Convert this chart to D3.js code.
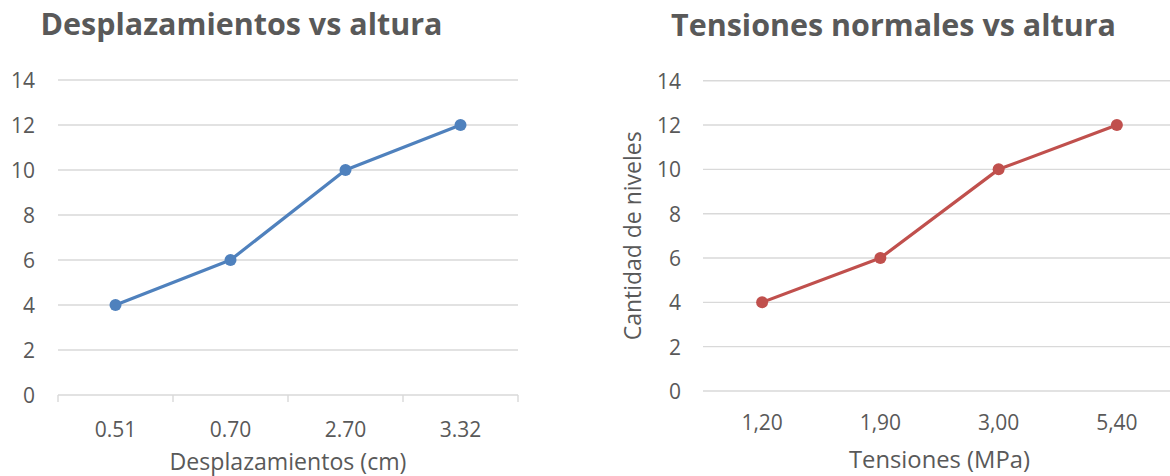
<!DOCTYPE html>
<html>
<head>
<meta charset="utf-8">
<script src="https://cdn.jsdelivr.net/npm/d3@7"></script>
<style>
  html, body { margin: 0; padding: 0; background: #ffffff; }
  svg { display: block; }
  text { font-family: "Open Sans", "Noto Sans", sans-serif; fill: #595959; }
</style>
</head>
<body>
<svg id="chart" width="1170" height="476"></svg>
<script>
// ---- data ----
const levels = [4, 6, 10, 12];
const displacementLabels = ["0.51", "0.70", "2.70", "3.32"];
const tensionLabels = ["1,20", "1,90", "3,00", "5,40"];
const yTicks = [0, 2, 4, 6, 8, 10, 12, 14];

const svg = d3.select("#chart");

function fitText(sel, target) {
  const w = sel.node().getComputedTextLength();
  const fs = parseFloat(sel.attr("font-size"));
  sel.attr("font-size", fs * target / w);
}

function drawChart(cfg) {
  const g = svg.append("g");
  const x = d3.scaleBand().domain(cfg.categories).range([cfg.x0, cfg.x1]).paddingInner(0).paddingOuter(0);
  const y = d3.scaleLinear().domain([0, 14]).range([cfg.y0, cfg.y1]);

  // gridlines
  g.append("g").selectAll("line").data(yTicks.filter(d => d > 0 || !cfg.axisTicks)).join("line")
    .attr("x1", cfg.x0).attr("x2", cfg.x1)
    .attr("y1", d => y(d)).attr("y2", d => y(d))
    .attr("stroke", "#d9d9d9").attr("stroke-width", 1.4);

  // x axis line with category boundary ticks
  if (cfg.axisTicks) {
    g.append("line").attr("x1", cfg.x0).attr("x2", cfg.x1)
      .attr("y1", y(0)).attr("y2", y(0))
      .attr("stroke", "#d9d9d9").attr("stroke-width", 1.4);
    const bounds = cfg.categories.map(c => x(c)).concat([x(cfg.categories[cfg.categories.length - 1]) + x.bandwidth()]);
    g.append("g").selectAll("line").data(bounds).join("line")
      .attr("x1", d => d).attr("x2", d => d)
      .attr("y1", y(0)).attr("y2", y(0) + 7)
      .attr("stroke", "#d9d9d9").attr("stroke-width", 1.4);
  }

  // y tick labels
  const yAxis = g.append("g").attr("transform", `translate(${cfg.yLabelX},0)`)
    .call(d3.axisLeft(y).tickValues(yTicks).tickSize(0).tickPadding(0));
  yAxis.select(".domain").remove();
  yAxis.selectAll("text").attr("font-size", 21).attr("fill", "#595959")
    .attr("font-family", "'Open Sans', sans-serif").attr("dy", "0.36em");

  // x tick labels
  const xAxis = g.append("g").attr("transform", `translate(0,${cfg.xLabelBase})`)
    .call(d3.axisBottom(x).tickSize(0).tickPadding(0));
  xAxis.select(".domain").remove();
  xAxis.selectAll("text").attr("font-size", 21).attr("fill", "#595959")
    .attr("font-family", "'Open Sans', sans-serif").attr("dy", 0).attr("y", 0);

  // line
  const line = d3.line().x((d, i) => x(cfg.categories[i]) + x.bandwidth() / 2).y(d => y(d));
  g.append("path").datum(levels).attr("d", line)
    .attr("fill", "none").attr("stroke", cfg.color).attr("stroke-width", 3.2)
    .attr("stroke-linejoin", "round");
  g.append("g").selectAll("circle").data(levels).join("circle")
    .attr("cx", (d, i) => x(cfg.categories[i]) + x.bandwidth() / 2)
    .attr("cy", d => y(d)).attr("r", 6).attr("fill", cfg.color);

  // title
  const t = g.append("text").text(cfg.title)
    .attr("x", cfg.titleX).attr("y", cfg.titleY)
    .attr("text-anchor", "middle").attr("font-weight", "bold")
    .attr("font-family", "Lato, 'Open Sans', sans-serif")
    .attr("font-size", 28).attr("fill", "#595959");
  fitText(t, cfg.titleW);

  // x axis title
  const xt = g.append("text").text(cfg.xTitle)
    .attr("x", (cfg.x0 + cfg.x1) / 2).attr("y", cfg.xTitleY)
    .attr("text-anchor", "middle").attr("font-size", 21).attr("fill", "#595959");
  fitText(xt, cfg.xTitleW);

  if (cfg.yTitle) {
    const cy = (cfg.y0 + cfg.y1) / 2;
    const yt = g.append("text").text(cfg.yTitle)
      .attr("transform", `translate(${cfg.yTitleX},${cy}) rotate(-90)`)
      .attr("text-anchor", "middle").attr("font-size", 21).attr("fill", "#595959");
    fitText(yt, cfg.yTitleW);
  }
}

drawChart({
  categories: displacementLabels, color: "#4f81bd",
  x0: 58, x1: 518, y0: 395, y1: 80,
  axisTicks: true, yLabelX: 35, xLabelBase: 437,
  title: "Desplazamientos vs altura", titleX: 241.5, titleY: 35, titleW: 402,
  xTitle: "Desplazamientos (cm)", xTitleY: 470, xTitleW: 237
});

drawChart({
  categories: tensionLabels, color: "#c0504d",
  x0: 703, x1: 1176, y0: 391, y1: 80.7,
  axisTicks: false, yLabelX: 681, xLabelBase: 430,
  title: "Tensiones normales vs altura", titleX: 893.5, titleY: 36, titleW: 445,
  xTitle: "Tensiones (MPa)", xTitleY: 468, xTitleW: 181,
  yTitle: "Cantidad de niveles", yTitleX: 641, yTitleW: 209
});
</script>
</body>
</html>
